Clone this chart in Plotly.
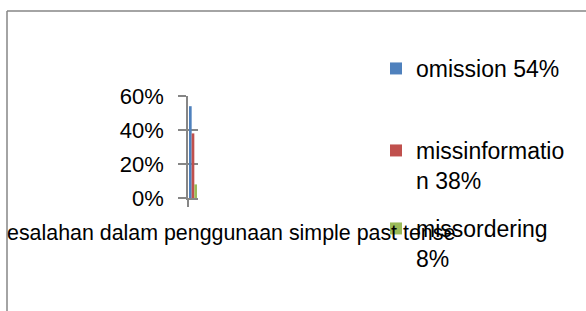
import plotly.graph_objects as go

W, H = 586, 311

categories = ["Kesalahan dalam penggunaan simple past tense"]
category_label = "esalahan dalam penggunaan simple past tense"
series_names = ["omission 54%", "missinformatio<br>n 38%", "missordering<br>8%"]
series_values = [0.54, 0.38, 0.08]
series_colors = ["#4F81BD", "#C0504D", "#9BBB59"]
y_tickvals = [0, 0.2, 0.4, 0.6]

FONT = "Liberation Sans"
GRAY = "#868686"

def px_x(p):
    return p / W

def px_y(p):
    return 1 - p / H

legend_ids = ["legend", "legend2", "legend3"]
legend_tops = [(376, 47), (376, 129), (376, 207)]

fig = go.Figure()
for name, val, col, lid in zip(series_names, series_values, series_colors, legend_ids):
    fig.add_trace(go.Bar(
        x=categories, y=[val], name=name, marker_color=col,
        marker_line_width=0, legend=lid,
    ))

layout_legends = {}
for lid, (lx, ly) in zip(legend_ids, legend_tops):
    layout_legends[lid] = dict(
        x=px_x(lx), y=px_y(ly), xanchor="left", yanchor="top",
        font=dict(family=FONT, size=23, color="black"),
        bgcolor="rgba(0,0,0,0)", valign="top", borderwidth=0,
        itemclick=False,
    )

fig.update_layout(
    width=W, height=H,
    margin=dict(l=0, r=0, t=0, b=0, pad=0, autoexpand=False),
    paper_bgcolor="white", plot_bgcolor="white",
    barmode="group", bargap=0.2, bargroupgap=0,
    showlegend=True,
    font=dict(family=FONT, size=22, color="black"),
    xaxis=dict(
        domain=[px_x(188), px_x(198)],
        showticklabels=False, ticks="outside", ticklen=7, tickcolor=GRAY,
        tickwidth=1.5, tickson="boundaries",
        showline=True, linecolor=GRAY, linewidth=1.5,
        showgrid=False, zeroline=False, fixedrange=True,
    ),
    yaxis=dict(
        domain=[1 - 198 / H, 1 - 96 / H],
        range=[0, 0.6], tickvals=y_tickvals, tickformat=".0%",
        ticks="outside", ticklen=8, tickcolor=GRAY, tickwidth=1.5,
        showline=True, linecolor=GRAY, linewidth=1.5,
        showgrid=True, gridcolor=GRAY, gridwidth=1.5,
        zeroline=False, ticklabelstandoff=10,
        tickfont=dict(family=FONT, size=22, color="black"),
        fixedrange=True,
    ),
    annotations=[dict(
        text=category_label, xref="paper", yref="paper",
        x=px_x(5), y=px_y(233), xanchor="left", yanchor="middle",
        showarrow=False, font=dict(family=FONT, size=21.4, color="black"),
    )],
    shapes=[
        dict(type="line", xref="paper", yref="paper",
             x0=px_x(7), x1=1, y0=px_y(11), y1=px_y(11),
             line=dict(color=GRAY, width=1.5)),
        dict(type="line", xref="paper", yref="paper",
             x0=px_x(7), x1=px_x(7), y0=px_y(11), y1=0,
             line=dict(color=GRAY, width=1.5)),
    ],
    **layout_legends,
)

fig.write_html(
    "out.html",
    config={"displayModeBar": False},
    post_script="document.body.style.margin='0';document.body.style.overflow='hidden';",
)
